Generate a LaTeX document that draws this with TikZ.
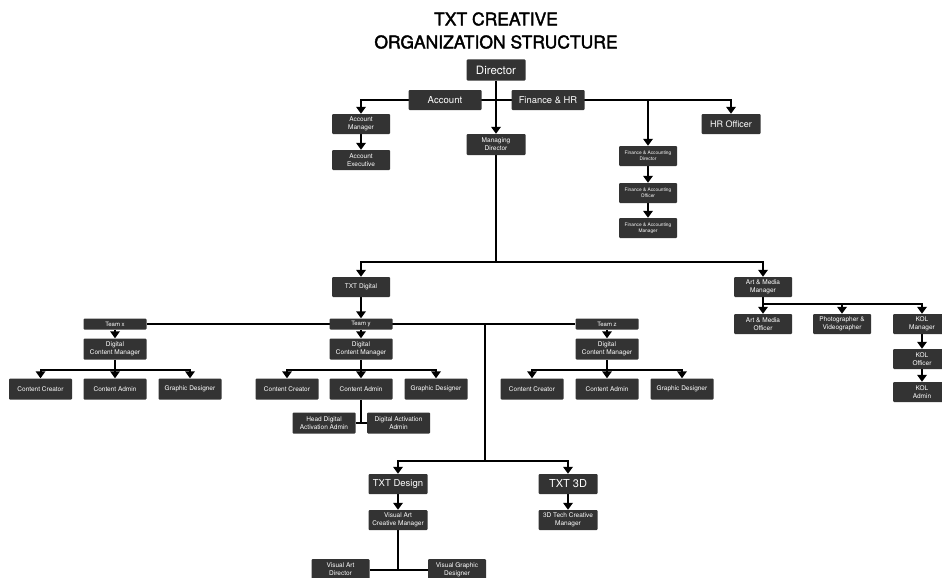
\documentclass[tikz,border=0pt]{standalone}
\usepackage{fontspec}
\setmainfont{TeX Gyre Heros}
\newfontfamily\ttlfont{TeX Gyre Heros}[FakeBold=2]
\usetikzlibrary{arrows.meta,backgrounds}
\definecolor{boxc}{HTML}{333333}
\begin{document}
\begin{tikzpicture}[x=1pt,y=-1pt,
  bx/.style={fill=boxc,text=white,rounded corners=1pt,inner sep=0pt,align=center},
  wA/.style={bx,minimum width=58pt,minimum height=20pt},
  wB/.style={bx,minimum width=63pt,minimum height=21pt},
  tm/.style={bx,minimum width=63pt,minimum height=11pt,font=\fontsize{6}{7}\selectfont},
  sm/.style={font=\fontsize{6.5}{8.2}\selectfont},
  tiny/.style={font=\fontsize{4.8}{6.2}\selectfont},
  ln/.style={line width=2pt,black},
  arr/.style={ln,-{Triangle[width=9.5pt,length=7pt]}}]
\useasboundingbox (0,0) rectangle (942,578);

% title
\node[align=center,font=\ttlfont\fontsize{17.5}{23}\selectfont] (title) at (496,30.5) {TXT CREATIVE\\ORGANIZATION STRUCTURE};

% top level
\node[bx,minimum width=59pt,minimum height=21pt,font=\fontsize{11.5}{13}\selectfont] (dir) at (496,70) {Director};
\node[bx,minimum width=73pt,minimum height=20pt,font=\fontsize{9.6}{11}\selectfont] (acc) at (445,100) {Account};
\node[bx,minimum width=73pt,minimum height=20pt,font=\fontsize{9.4}{11}\selectfont] (fin) at (548,100) {Finance \& HR};
\node[wA,sm] (am) at (361,124) {Account\\Manager};
\node[wA,sm] (ae) at (361,160) {Account\\Executive};
\node[bx,minimum width=59pt,minimum height=21pt,sm] (md) at (496,144.5) {Managing\\Director};
\node[bx,minimum width=59pt,minimum height=20pt,font=\fontsize{9}{11}\selectfont] (hr) at (731,124) {HR Officer};
\node[wA,tiny] (fad) at (648,156) {Finance \& Accounting\\Director};
\node[wA,tiny] (fao) at (648,193) {Finance \& Accounting\\Officer};
\node[wA,tiny] (fam) at (648,228) {Finance \& Accounting\\Manager};

% digital
\node[wA,sm] (txd) at (361,287) {TXT Digital};
\node[wA,sm] (amm) at (763,287) {Art \& Media\\Manager};
\node[tm] (tx) at (115,324) {Team x};
\node[tm] (ty) at (361,324) {Team y};
\node[tm] (tz) at (607,324) {Team z};
\node[wB,sm] (dx) at (115,349) {Digital\\Content Manager};
\node[wB,sm] (dy) at (361,349) {Digital\\Content Manager};
\node[wB,sm] (dz) at (607,349) {Digital\\Content Manager};
\node[wB,sm] (ccx) at (40.5,389) {Content Creator};
\node[wB,sm] (cax) at (115,389) {Content Admin};
\node[wB,sm] (gdx) at (190,389) {Graphic Designer};
\node[wB,sm] (ccy) at (287,389) {Content Creator};
\node[wB,sm] (cay) at (361,389) {Content Admin};
\node[wB,sm] (gdy) at (436,389) {Graphic Designer};
\node[wB,sm] (ccz) at (532,389) {Content Creator};
\node[wB,sm] (caz) at (607,389) {Content Admin};
\node[wB,sm] (gdz) at (682,389) {Graphic Designer};
\node[wB,sm] (hda) at (324,423) {Head Digital\\Activation Admin};
\node[wB,sm] (daa) at (398.5,423) {Digital Activation\\Admin};

% art & media
\node[wA,sm] (amo) at (763,324) {Art \& Media\\Officer};
\node[wA,sm] (pho) at (842,324) {Photographer \&\\Videographer};
\node[wA,sm] (kolm) at (922,324) {KOL\\Manager};
\node[wA,sm] (kolo) at (922,359) {KOL\\Officer};
\node[wA,sm] (kola) at (922,392) {KOL\\Admin};

% design / 3D
\node[bx,minimum width=59pt,minimum height=20pt,font=\fontsize{9.5}{11}\selectfont] (des) at (398,484) {TXT Design};
\node[bx,minimum width=59pt,minimum height=20pt,font=\fontsize{11}{13}\selectfont] (t3d) at (568,484) {TXT 3D};
\node[bx,minimum width=59pt,minimum height=20pt,sm] (vacm) at (398,520) {Visual Art\\Creative Manager};
\node[bx,minimum width=59pt,minimum height=20pt,sm] (tcm) at (568,520) {3D Tech Creative\\Manager};
\node[wA,minimum height=21pt,sm] (vad) at (340.5,569.5) {Visual Art\\Director};
\node[wA,minimum height=21pt,sm] (vgd) at (457,569.5) {Visual Graphic\\Designer};

\coordinate (h1) at (496,99.5);
\coordinate (h2) at (496,262);
\coordinate (v1) at (485,324);
\coordinate (h3) at (485,460.5);
\coordinate (bxx) at (115,369.5);
\coordinate (bxy) at (361,369.5);
\coordinate (bxz) at (607,369.5);
\coordinate (bam) at (763,304);
\coordinate (jy) at (361,423);
\coordinate (jd) at (398,569.5);

\begin{scope}[on background layer]
\fill[white] (0,0) rectangle (942,578);
\draw[arr] (dir.south) -- (md.north);
\draw[arr] (h1) -| (am.north);
\draw[arr] (h1) -| (fad.north);
\draw[arr] (h1) -| (hr.north);
\draw[arr] (am) -- (ae);
\draw[arr] (fad) -- (fao);
\draw[arr] (fao) -- (fam);
\draw[ln] (md.south) -- (h2);
\draw[arr] (h2) -| (txd.north);
\draw[arr] (h2) -| (amm.north);
\draw[arr] (txd) -- (ty);
\draw[ln] (tx.east) -- (tz.west);
\draw[ln] (v1) -- (h3);
\draw[arr] (h3) -| (des.north);
\draw[arr] (h3) -| (t3d.north);
\draw[arr] (tx) -- (dx);
\draw[arr] (ty) -- (dy);
\draw[arr] (tz) -- (dz);
\draw[arr] (dx) -- (cax);
\draw[arr] (bxx) -| (ccx.north);
\draw[arr] (bxx) -| (gdx.north);
\draw[arr] (dy) -- (cay);
\draw[arr] (bxy) -| (ccy.north);
\draw[arr] (bxy) -| (gdy.north);
\draw[arr] (dz) -- (caz);
\draw[arr] (bxz) -| (ccz.north);
\draw[arr] (bxz) -| (gdz.north);
\draw[ln] (cay.south) -- (jy);
\draw[ln] (hda.east) -- (daa.west);
\draw[arr] (amm) -- (amo);
\draw[arr] (bam) -| (pho.north);
\draw[arr] (bam) -| (kolm.north);
\draw[arr] (kolm) -- (kolo);
\draw[arr] (kolo) -- (kola);
\draw[arr] (des) -- (vacm);
\draw[arr] (t3d) -- (tcm);
\draw[ln] (vacm.south) -- (jd);
\draw[ln] (vad.east) -- (vgd.west);
\end{scope}
\end{tikzpicture}
\end{document}
